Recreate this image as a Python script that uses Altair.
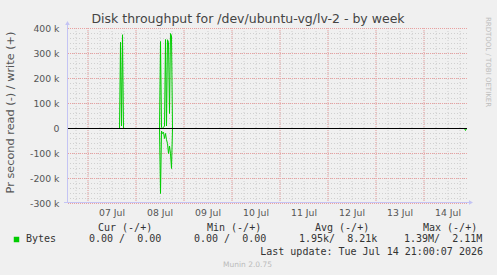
import altair as alt
import pandas as pd

# ---------------- data ----------------
TIMES = [
    "2026-07-06T13:45:00Z",
    "2026-07-07T15:45:00Z", "2026-07-07T16:15:00Z", "2026-07-07T16:45:00Z",
    "2026-07-07T17:15:00Z", "2026-07-07T17:45:00Z",
    "2026-07-08T11:45:00Z", "2026-07-08T12:15:00Z", "2026-07-08T12:45:00Z",
    "2026-07-08T13:15:00Z", "2026-07-08T13:45:00Z", "2026-07-08T14:15:00Z",
    "2026-07-08T14:45:00Z", "2026-07-08T15:15:00Z", "2026-07-08T15:45:00Z",
    "2026-07-08T16:15:00Z", "2026-07-08T16:45:00Z", "2026-07-08T17:15:00Z",
    "2026-07-08T17:45:00Z", "2026-07-08T18:15:00Z",
    "2026-07-14T20:15:00Z", "2026-07-14T20:45:00Z", "2026-07-14T21:15:00Z",
]
WRITE_K = [0, 0, 345, 10, 375, 0, 0, 348, 5, 0, 5, 10, 356, 10, 355, 345, 60, 380, 370, 0, 0, 0, 0]
READ_K = [0, 0, 0, 0, 0, 0, 0, -260, -10, -20, -15, -40, -20, -45, -60, -100, -70, -100, -160, 0, 0, -8, 0]

DAYS = [7, 8, 9, 10, 11, 12, 13, 14]
Y_LABEL_VALUES = [-300, -200, -100, 0, 100, 200, 300, 400]
Y_MINOR = list(range(-280, 400, 20))
Y_MAJOR = [-300, -200, -100, 100, 200, 300, 400]

TITLE = "Disk throughput for /dev/ubuntu-vg/lv-2 - by week"
Y_TITLE = "Pr second read (-) / write (+)"
SERIES = "Bytes"
HEADERS = ["Cur (-/+)", "Min (-/+)", "Avg (-/+)", "Max (-/+)"]
VALUES = ["0.00 /  0.00", "0.00 /  0.00", "1.95k/  8.21k", "1.39M/  2.11M"]
LAST_UPDATE = "Last update: Tue Jul 14 21:00:07 2026"
FOOTER = "Munin 2.0.75"
SIDE = "RRDTOOL / TOBI OETIKER"

# ---------------- layout ----------------
W, H = 400, 175
GREEN = "#00cc00"
AXIS_C = "#c4c4f4"
SANS = "DejaVu Sans"
MONO = "DejaVu Sans Mono"

xdom = [alt.DateTime(year=2026, month=7, date=6, hours=13, minutes=45, utc=True),
        alt.DateTime(year=2026, month=7, date=14, hours=21, minutes=45, utc=True)]
xs = alt.Scale(type="utc", domain=xdom)
ys = alt.Scale(domain=[-300, 400], nice=False, zero=False)

noon_vals = [alt.DateTime(year=2026, month=7, date=d, hours=12, utc=True) for d in DAYS]
XAXIS = alt.Axis(
    values=noon_vals, labelExpr="utcFormat(datum.value, '%d %b')", title=None,
    ticks=False, domain=False, grid=False, labelPadding=5, labelFont=SANS,
    labelFontSize=9.3, labelColor="#555555", labelOverlap=False)
YAXIS = alt.Axis(
    values=Y_LABEL_VALUES, labelExpr="datum.value == 0 ? '0' : datum.value + ' k'",
    title=None, ticks=False, domain=False, grid=False, labelPadding=8,
    labelFont=SANS, labelFontSize=9.3, labelColor="#555555")

rows = []
for t, w, r in zip(TIMES, WRITE_K, READ_K):
    rows.append({"t": t, "v": w, "s": "write"})
    rows.append({"t": t, "v": r, "s": "read"})
line_df = pd.DataFrame(rows)

minor_t = [f"2026-07-{d:02d}T{h:02d}:00:00Z" for d in range(6, 15) for h in (0, 6, 12, 18)]
minor_t = [s for s in minor_t if "2026-07-06T13:45:00Z" < s < "2026-07-14T21:45:00Z"]
major_t = [f"2026-07-{d:02d}T00:00:00Z" for d in DAYS]

vminor = alt.Chart(pd.DataFrame({"t": minor_t})).mark_rule(
    color="#cfcfcf", strokeDash=[1, 2], strokeWidth=1, xOffset=0.5
).encode(x=alt.X("t:T", scale=xs, axis=XAXIS))
hminor = alt.Chart(pd.DataFrame({"y": Y_MINOR})).mark_rule(
    color="#cfcfcf", strokeDash=[1, 2], strokeWidth=1, yOffset=0.5
).encode(y=alt.Y("y:Q", scale=ys, axis=YAXIS))
vmajor = alt.Chart(pd.DataFrame({"t": major_t})).mark_rule(
    color="#eaa0a0", strokeDash=[1, 1], strokeWidth=1, xOffset=0.5
).encode(x=alt.X("t:T", scale=xs, axis=XAXIS))
hmajor = alt.Chart(pd.DataFrame({"y": Y_MAJOR})).mark_rule(
    color="#eaa0a0", strokeDash=[1, 1], strokeWidth=1, yOffset=0.5
).encode(y=alt.Y("y:Q", scale=ys, axis=YAXIS))

lines = alt.Chart(line_df).mark_line(
    color=GREEN, strokeWidth=1, interpolate="linear", yOffset=0.5, xOffset=0.5
).encode(
    x=alt.X("t:T", scale=xs, axis=XAXIS),
    y=alt.Y("v:Q", scale=ys, axis=YAXIS),
    detail="s:N",
)

zero = alt.Chart(pd.DataFrame({"y": [0]})).mark_rule(
    color="#000000", strokeWidth=1, yOffset=0.5).encode(
    y=alt.Y("y:Q", scale=ys, axis=YAXIS))

yaxis_line = alt.Chart(pd.DataFrame({"k": [0]})).mark_rule(color=AXIS_C, strokeWidth=1).encode(
    x=alt.value(0.5), y=alt.value(-4), y2=alt.value(H))
xaxis_line = alt.Chart(pd.DataFrame({"k": [0]})).mark_rule(color=AXIS_C, strokeWidth=1).encode(
    x=alt.value(-3), x2=alt.value(W + 3), y=alt.value(H - 0.5))
arrow_up = alt.Chart(pd.DataFrame({"k": [0]})).mark_point(
    shape="triangle-up", filled=True, color=AXIS_C, size=22, opacity=1).encode(
    x=alt.value(0.5), y=alt.value(-5))
arrow_right = alt.Chart(pd.DataFrame({"k": [0]})).mark_point(
    shape="triangle-right", filled=True, color=AXIS_C, size=22, opacity=1).encode(
    x=alt.value(W + 4), y=alt.value(H - 0.5))

dummy = pd.DataFrame({"k": [0]})


def txt(text, x, y, size, font=SANS, color="#444444", align="left", angle=0):
    return alt.Chart(dummy).mark_text(
        x=x, y=y, fontSize=size, font=font, color=color, align=align,
        baseline="middle", angle=angle).encode(text=alt.value(text.replace(" ", "\u00a0")))


texts = [
    txt(TITLE, 181, -9, 12.5, color="#444444", align="center"),
    txt(Y_TITLE, -56, 84.5, 11.3, color="#555555", align="center", angle=270),
    txt(SIDE, 421, 34, 7, color="#bdbdbd", align="center", angle=90),
    txt(SERIES, -41, 211, 10, font=MONO, color="#333333"),
    txt(LAST_UPDATE, 416, 224, 10, font=MONO, color="#333333", align="right"),
    txt(FOOTER, 180.5, 236.5, 7.5, color="#bbbbbb", align="center"),
]
head_x = [31, 140, 248, 356]
val_x = [22, 127, 232, 337]
for h, hx in zip(HEADERS, head_x):
    texts.append(txt(h, hx, 200, 10, font=MONO, color="#333333"))
for v, vx in zip(VALUES, val_x):
    texts.append(txt(v, vx, 211, 10, font=MONO, color="#333333"))

swatch = alt.Chart(dummy).mark_square(
    x=-50.5, y=211.5, size=30, filled=True, opacity=1).encode(
    color=alt.value(GREEN))

chart = alt.layer(
    vminor, hminor, vmajor, hmajor, lines, zero,
    yaxis_line, xaxis_line, arrow_up, arrow_right, swatch, *texts
).properties(
    width=W, height=H,
    padding={"left": 67, "top": 28, "right": 30, "bottom": 72},
    autosize=alt.AutoSizeParams(type="none"),
).configure(background="#f0f0f0").configure_view(fill="#ffffff", strokeWidth=0)

chart.save("out.html", embed_options={"renderer": "svg", "actions": False})
